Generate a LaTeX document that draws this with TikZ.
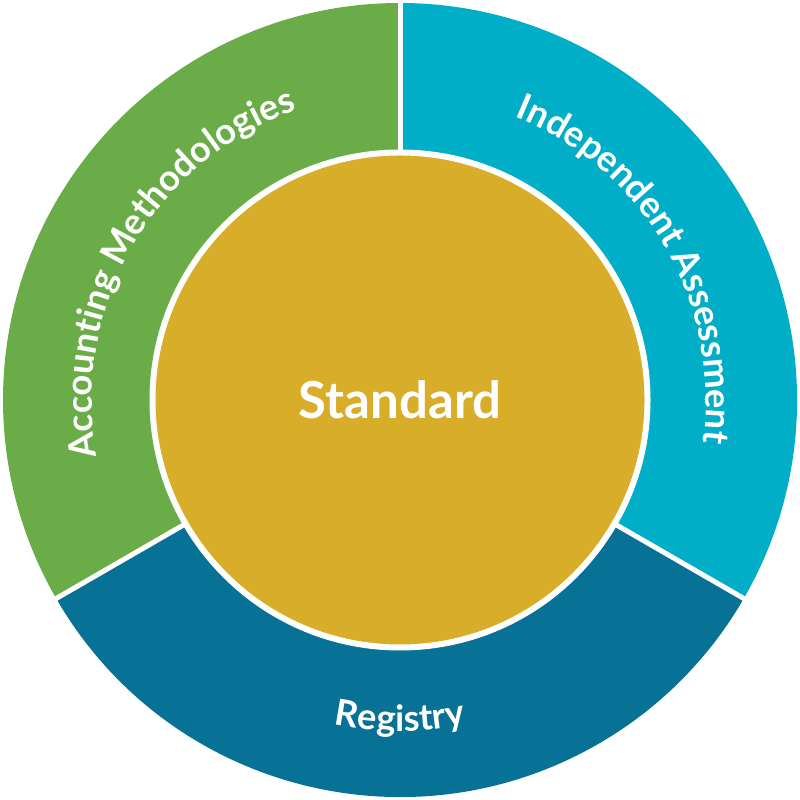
\documentclass[tikz,border=0pt]{standalone}
\usepackage{fontspec}
\setmainfont{Lato}
\usepackage{tikz}
\usetikzlibrary{decorations.text}

\definecolor{accgreen}{RGB}{106,173,72}
\definecolor{assesscyan}{RGB}{0,174,199}
\definecolor{regblue}{RGB}{8,113,150}
\definecolor{stdgold}{RGB}{216,173,42}

\begin{document}
\begin{tikzpicture}[
  every node/.style={font=\bfseries},
  gap/.style={draw=white, line width=0.05cm},
  core/.style={circle, fill=stdgold, draw=white, line width=0.06cm, minimum size=4.95cm, text=white, font=\fontsize{14.5}{16}\selectfont\bfseries},
  ringtext/.style={decorate, decoration={text along path, text align=center, text color=white, text={|\fontsize{10.3}{12}\selectfont\bfseries|#1}}}
]
\useasboundingbox (-4,-4) rectangle (4,4);

% outer ring, three parts
\fill[accgreen] (0,0) -- (90:3.97) arc[start angle=90, end angle=210, radius=3.97] -- cycle;
\fill[assesscyan] (0,0) -- (-30:3.97) arc[start angle=-30, end angle=90, radius=3.97] -- cycle;
\fill[regblue] (0,0) -- (210:3.97) arc[start angle=210, end angle=330, radius=3.97] -- cycle;

\coordinate (c) at (0,0);
\foreach \a in {90,210,330}
  \draw[gap] (c) -- (\a:3.99);

\node[core] (std) at (c) {Standard};

% labels on the ring
\path[ringtext={Accounting Methodologies}] (210:3.08) arc[start angle=210, end angle=90, radius=3.08];
\path[ringtext={Independent Assessment}] (90:3.06) arc[start angle=90, end angle=-30, radius=3.06];
\path[ringtext={Registry}] (210:3.31) arc[start angle=210, end angle=330, radius=3.31];

\end{tikzpicture}
\end{document}
